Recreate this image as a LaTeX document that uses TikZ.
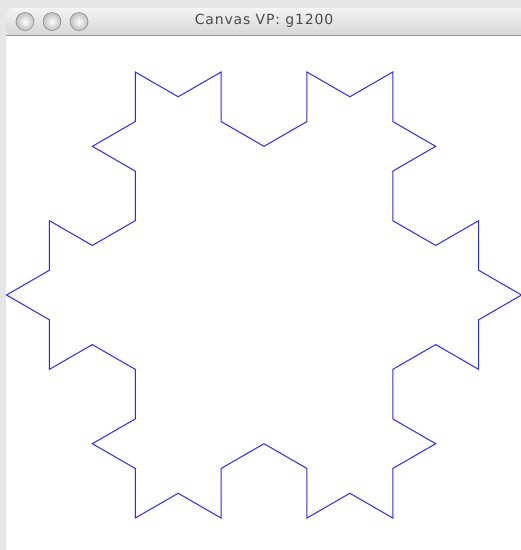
\documentclass[tikz,border=0pt]{standalone}
\usepackage{fontspec}
\setsansfont{DejaVu Sans}
\definecolor{desk}{RGB}{230,230,230}
\definecolor{bartop}{RGB}{244,244,244}
\definecolor{barbot}{RGB}{214,214,214}
\definecolor{barline}{RGB}{150,150,150}
\definecolor{titlegray}{RGB}{75,75,75}
\definecolor{snowblue}{RGB}{40,40,255}

\begin{document}
\begin{tikzpicture}[
  x=1pt, y=-1pt,
  bar/.style   ={top color=bartop, bottom color=barbot, draw=none},
  knob/.style  ={circle, minimum size=18pt, inner sep=0pt, draw=black!45, line width=0.6pt,
                 inner color=white, outer color=black!25},
  title/.style ={font=\sffamily\fontsize{14}{16}\selectfont\addfontfeature{LetterSpace=6},
                 text=titlegray, inner sep=0pt},
  curve/.style ={draw=snowblue, line width=1pt, line join=miter},
]

% window frame
\fill[desk] (0,0) rectangle (521,550);
\useasboundingbox (0,0) rectangle (521,550);
\path[bar, rounded corners=6pt] (6,35) |- (528,8) -- (528,35) -- cycle;
\draw[barline, line width=1pt] (6,35) -- (521,35);
\fill[white] (6,35.5) rectangle (521,550);

\node[knob] (close) at (25,21.5) {};
\node[knob] (mini)  at (52,21.5) {};
\node[knob] (zoom)  at (79,21.5) {};
\node[title] (caption) at (264,20.5) {Canvas VP: g1200};

% snowflake, one unit = one lattice step
\begin{scope}[xshift=6.5pt, yshift=-72pt, x=42.92pt, y=-24.78pt]
\draw[curve] (3,0) -- (4,1) -- (5,0) -- (5,2) -- (6,3) -- (7,2) -- (7,0) -- (8,1)
  -- (9,0) -- (9,2) -- (10,3) -- (9,4) -- (9,6) -- (10,7) -- (11,6) -- (11,8)
  -- (12,9) -- (11,10) -- (11,12) -- (10,11) -- (9,12) -- (9,14) -- (10,15) -- (9,16)
  -- (9,18) -- (8,17) -- (7,18) -- (7,16) -- (6,15) -- (5,16) -- (5,18) -- (4,17)
  -- (3,18) -- (3,16) -- (2,15) -- (3,14) -- (3,12) -- (2,11) -- (1,12) -- (1,10)
  -- (0,9) -- (1,8) -- (1,6) -- (2,7) -- (3,6) -- (3,4) -- (2,3) -- (3,2) -- cycle;
\end{scope}

\end{tikzpicture}
\end{document}
